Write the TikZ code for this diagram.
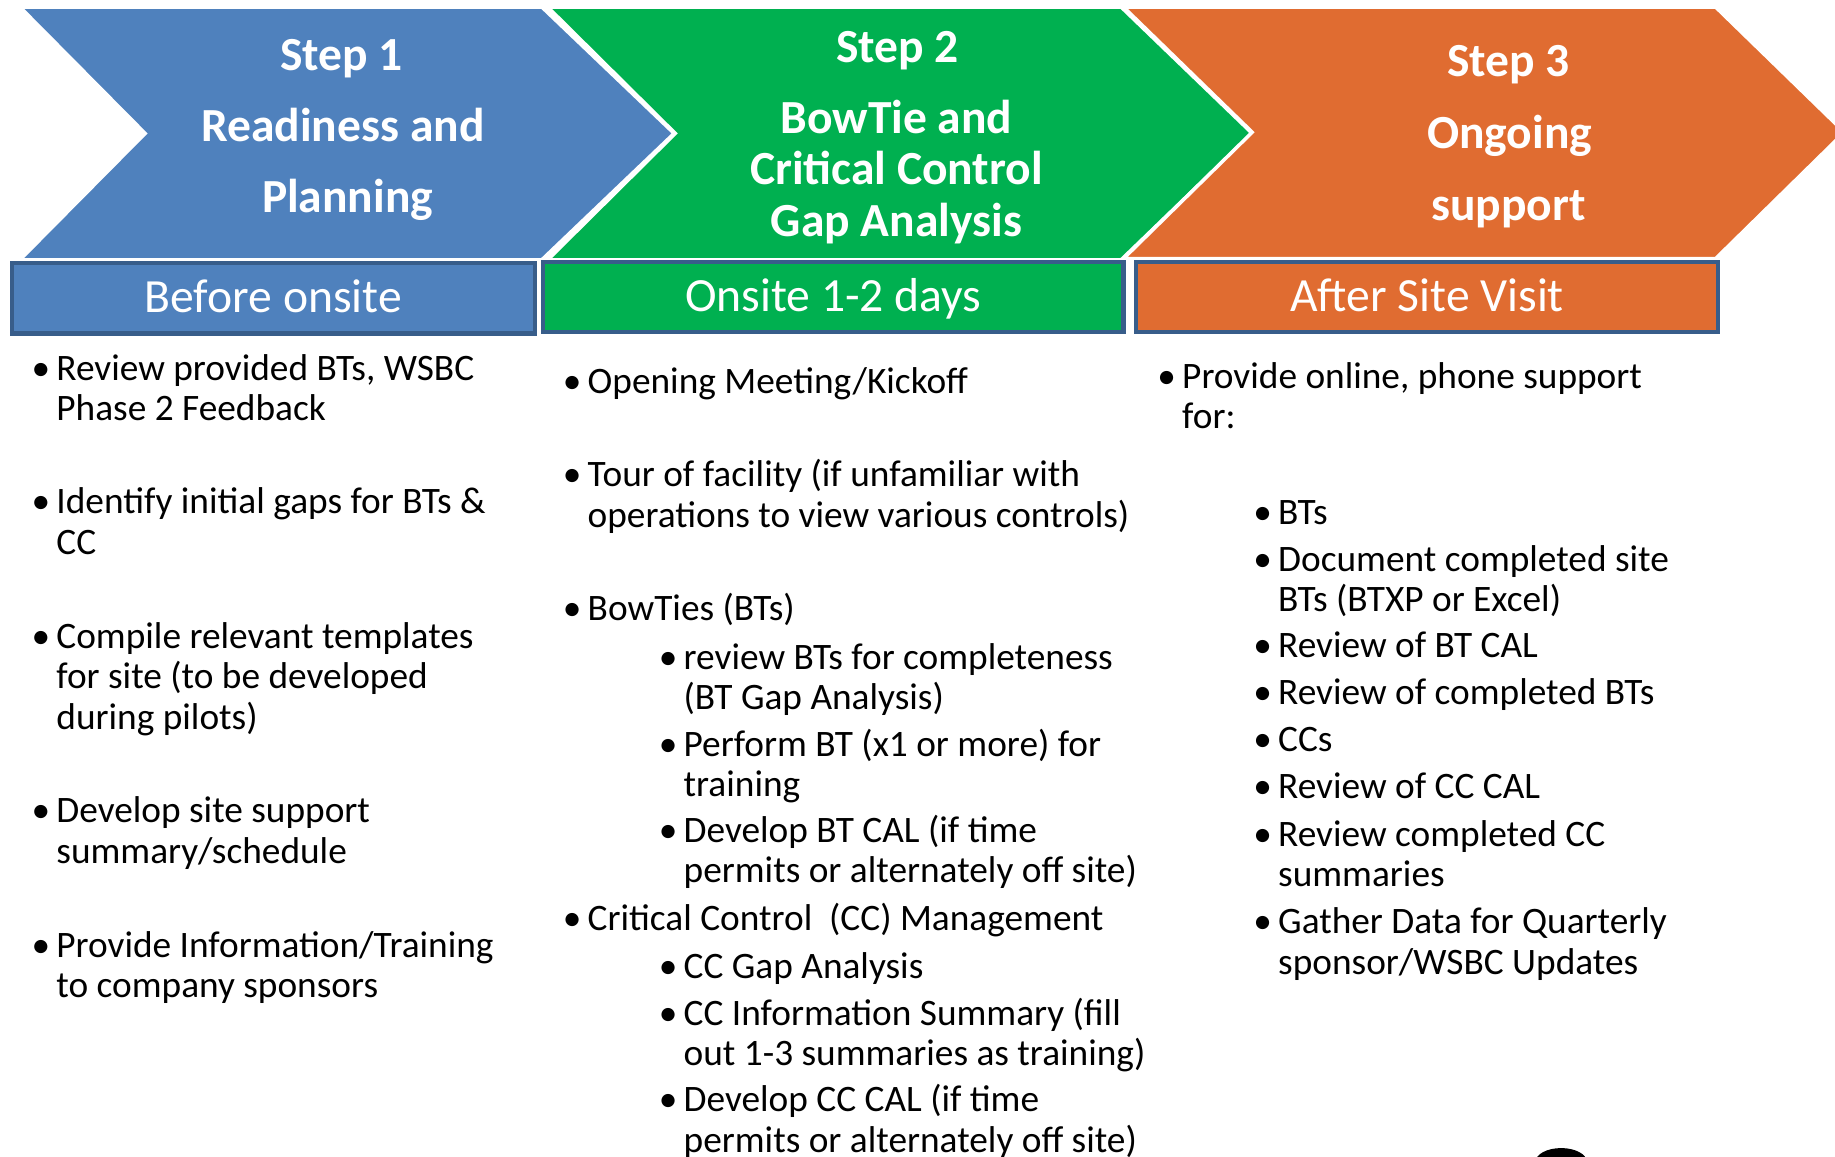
\documentclass[tikz,border=0pt]{standalone}
\usepackage{fontspec}
\setmainfont{Carlito}
\definecolor{cblue}{HTML}{4F81BD}
\definecolor{cgreen}{HTML}{00B050}
\definecolor{corange}{HTML}{E06C31}
\definecolor{cedge}{HTML}{385D8A}
\newcommand\lns[1]{\begin{tabular}[t]{@{}l@{}}#1\end{tabular}}
\newcommand\bitem[5]{%
  \node[bul] (#1b) at (#2,#4) {•};
  \node[itm] (#1) at (#3,#4) {\lns{#5}};}
\begin{document}
\begin{tikzpicture}[x=1pt,y=-1pt,
  chev/.style={draw=white, line width=3pt, line join=miter},
  lbox/.style={draw=cedge, line width=3.5pt, minimum height=60pt, inner sep=0pt,
    text=white, font=\fontsize{40.7}{48}\selectfont, text height=30pt, text depth=6pt},
  ttl/.style={text=white, font=\bfseries\fontsize{40.6}{45}\selectfont, anchor=base, inner sep=0pt},
  itm/.style={font=\fontsize{31.9}{34.5}\selectfont, anchor=base west, inner sep=0pt},
  bul/.style={font=\fontsize{31.9}{34.5}\selectfont, anchor=base, inner sep=0pt}]
\useasboundingbox (0,0) rectangle (1568,988);
\clip (0,0) rectangle (1568,988);
\fill[white] (0,0) rectangle (1568,988);
% chevrons
\path[chev, fill=cblue] (17,6) -- (463,6) -- (576,114) -- (463,222) -- (17,222) -- (124,114) -- cycle;
\path[chev, fill=cgreen] (468,6) -- (958,6) -- (1070,114) -- (958,222) -- (468,222) -- (577,114) -- cycle;
\path[chev, fill=corange] (960,6) -- (1466,6) -- (1576,113) -- (1466,221) -- (960,221) -- (1070,113) -- cycle;
% chevron titles
\node[ttl] (s1a) at (292,60) {Step 1};
\node[ttl] (s1b) at (293,121) {Readiness and};
\node[ttl] (s1c) at (297,182) {Planning};
\node[ttl] (s2a) at (767,53) {Step 2};
\node[ttl] (s2b) at (766,114) {BowTie and};
\node[ttl] (s2c) at (766,158) {Critical Control};
\node[ttl] (s2d) at (766,202) {Gap Analysis};
\node[ttl] (s3a) at (1289,65) {Step 3};
\node[ttl] (s3b) at (1290,127) {Ongoing};
\node[ttl] (s3c) at (1289,188) {support};
% phase boxes
\node[lbox, fill=cblue, minimum width=447pt] (box1) at (233.5,255) {Before onsite};
\node[lbox, fill=cgreen, minimum width=496pt] (box2) at (712,254) {Onsite 1-2 days};
\node[lbox, fill=corange, minimum width=497pt] (box3) at (1219.5,254) {After Site Visit};
% column 1
\bitem{c1a}{35}{48}{325}{Review provided BTs, WSBC\\ Phase 2 Feedback}
\bitem{c1b}{35}{48}{439}{Identify initial gaps for BTs \&\\ CC}
\bitem{c1c}{35}{48}{554}{Compile relevant templates\\ for site (to be developed\\ during pilots)}
\bitem{c1d}{35}{48}{703}{Develop site support\\ summary/schedule}
\bitem{c1e}{35}{48}{818}{Provide Information/Training\\ to company sponsors}
% column 2
\bitem{c2a}{489}{502}{336}{Opening Meeting/Kickoff}
\bitem{c2b}{489}{502}{416}{Tour of facility (if unfamiliar with\\ operations to view various controls)}
\bitem{c2c}{489}{502}{530}{BowTies (BTs)}
\bitem{c2d}{571}{584}{572}{review BTs for completeness\\ (BT Gap Analysis)}
\bitem{c2e}{571}{584}{646}{Perform BT (x1 or more) for\\ training}
\bitem{c2f}{571}{584}{720}{Develop BT CAL (if time\\ permits or alternately off site)}
\bitem{c2g}{489}{502}{795}{Critical Control~~(CC) Management}
\bitem{c2h}{571}{584}{836}{CC Gap Analysis}
\bitem{c2i}{571}{584}{876}{CC Information Summary (fill\\ out 1-3 summaries as training)}
\bitem{c2j}{571}{584}{950}{Develop CC CAL (if time\\ permits or alternately off site)}
% column 3
\bitem{c3a}{997}{1010}{332}{Provide online, phone support\\ for:}
\bitem{c3b}{1079}{1092}{448}{BTs}
\bitem{c3c}{1079}{1092}{488}{Document completed site\\ BTs (BTXP or Excel)}
\bitem{c3d}{1079}{1092}{562}{Review of BT CAL}
\bitem{c3e}{1079}{1092}{602}{Review of completed BTs}
\bitem{c3f}{1079}{1092}{642}{CCs}
\bitem{c3g}{1079}{1092}{682}{Review of CC CAL}
\bitem{c3h}{1079}{1092}{723}{Review completed CC\\ summaries}
\bitem{c3i}{1079}{1092}{798}{Gather Data for Quarterly\\ sponsor/WSBC Updates}
% partial dark shape at the bottom edge
\fill[black] (1334,993) ellipse [x radius=22pt, y radius=12pt];
\end{tikzpicture}
\end{document}
